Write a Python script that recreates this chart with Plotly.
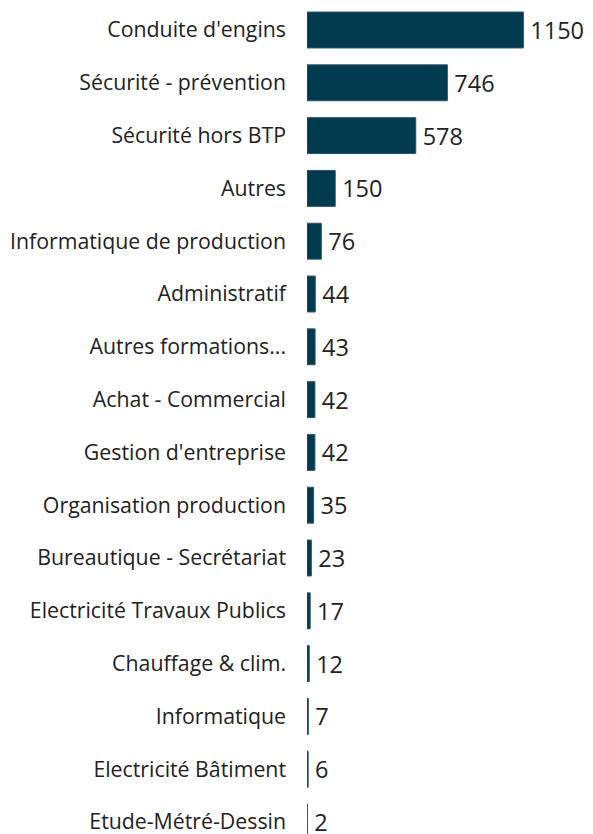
import plotly.graph_objects as go

# categories, top to bottom
categories = [
    "Conduite d'engins", "Sécurité - prévention", "Sécurité hors BTP", "Autres",
    "Informatique de production", "Administratif", "Autres formations...",
    "Achat - Commercial", "Gestion d'entreprise", "Organisation production",
    "Bureautique - Secrétariat", "Electricité Travaux Publics", "Chauffage & clim.",
    "Informatique", "Electricité Bâtiment", "Etude-Métré-Dessin",
]
values = [1150, 746, 578, 150, 76, 44, 43, 42, 42, 35, 23, 17, 12, 7, 6, 2]

bar_color = "#023b4f"
text_color = "#222222"

fig = go.Figure()
fig.add_trace(go.Bar(
    x=values, y=categories, orientation="h",
    marker=dict(color=bar_color, line=dict(color="#24566a", width=1)),
    text=values, texttemplate="\u2006%{text}", textposition="outside",
    textfont=dict(family="Open Sans", size=23.5, color=text_color),
    constraintext="none", cliponaxis=False,
    hoverinfo="skip",
))

# the page body adds an 8px offset, so the figure is sized to fit inside it
fig.update_layout(
    width=585, height=826,
    margin=dict(l=299, r=0, t=0, b=0, autoexpand=False),
    paper_bgcolor="white", plot_bgcolor="white",
    bargap=0.32,
    showlegend=False,
    font=dict(family="Open Sans", color=text_color),
    xaxis=dict(range=[0, 1520], visible=False, fixedrange=True),
    yaxis=dict(
        type="category", range=[15.227, -0.4167],
        showgrid=False, showline=False, zeroline=False, ticks="",
        tickfont=dict(family="Open Sans", size=21.3, color=text_color),
        ticklabelstandoff=20, fixedrange=True, automargin=False,
    ),
)

fig.write_html("out.html")
